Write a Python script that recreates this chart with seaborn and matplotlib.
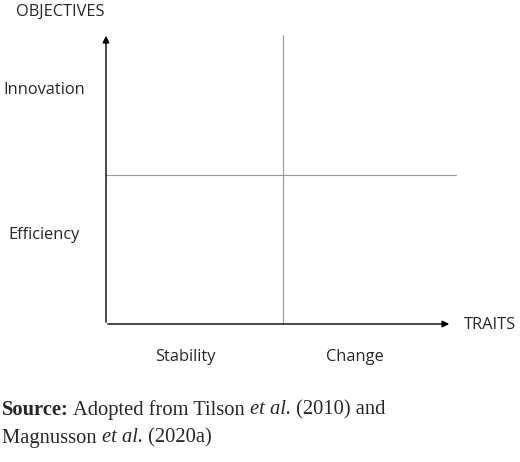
import matplotlib
matplotlib.use("Agg")
import matplotlib.pyplot as plt
import seaborn as sns

# categories
traits = ["Stability", "Change"]
objectives = ["Efficiency", "Innovation"]
axis_names = ["TRAITS", "OBJECTIVES"]

sns.set_theme(style="white")
plt.rcParams['font.family'] = ['Open Sans', 'DejaVu Sans']

fig = plt.figure(figsize=(5.2, 4.62), dpi=100)
ax = fig.add_axes([0, 0, 1, 1])
ax.set_xlim(0, 520)
ax.set_ylim(462, 0)
ax.axis("off")

# axes arrows
ax.annotate("", xy=(452, 324), xytext=(105, 324),
            arrowprops=dict(arrowstyle="-|>", color="black", lw=1, mutation_scale=10))
ax.annotate("", xy=(106, 33), xytext=(106, 325),
            arrowprops=dict(arrowstyle="-|>", color="black", lw=1, mutation_scale=10))

# quadrant dividers
ax.plot([283, 283], [35, 324], color="#999999", lw=0.8)
ax.plot([106, 456], [175, 175], color="#999999", lw=0.8)

# labels
fs = 11.8
for name, x in zip(traits, [185, 355]):
    ax.text(x, 357, name, ha="center", va="center", fontsize=fs)
for name, y in zip(objectives, [235, 90]):
    ax.text(44, y, name, ha="center", va="center", fontsize=fs)
ax.text(490, 325, axis_names[0], ha="center", va="center", fontsize=fs)
ax.text(60, 12, axis_names[1], ha="center", va="center", fontsize=fs)

# source note, built piece by piece for bold/italic runs
src = dict(family=['Liberation Serif', 'DejaVu Serif'], fontsize=14.8)
parts1 = [("Source:", "bold", "normal"), (" Adopted from Tilson ", "normal", "normal"),
          ("et al.", "normal", "italic"), (" (2010) and", "normal", "normal")]
parts2 = [("Magnusson ", "normal", "normal"), ("et al.", "normal", "italic"),
          (" (2020a)", "normal", "normal")]
r = fig.canvas.get_renderer()
for parts, y in [(parts1, 410), (parts2, 438)]:
    x = 2
    for s, w, st in parts:
        t = ax.text(x, y, s, va="center", fontweight=w, fontstyle=st, **src)
        x = t.get_window_extent(renderer=r).transformed(ax.transData.inverted()).x1

fig.savefig("out.png", dpi=100)
